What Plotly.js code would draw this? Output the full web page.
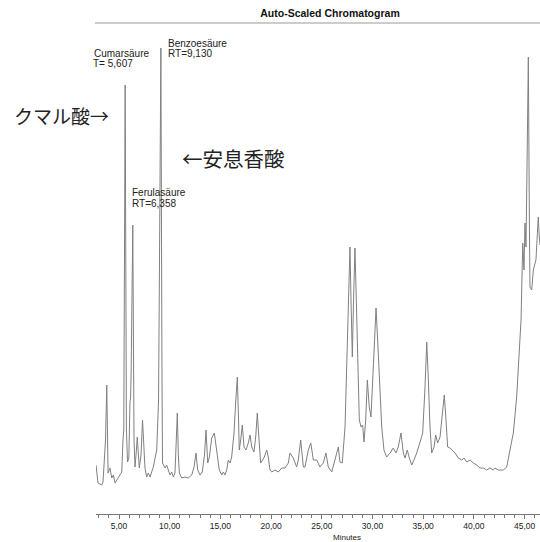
<!DOCTYPE html>
<html>
<head>
<meta charset="utf-8">
<script src="https://cdn.plot.ly/plotly-3.0.1.min.js"></script>
<style>html,body{margin:0;padding:0;background:#fff;}#chart{width:540px;height:542px;}</style>
</head>
<body>
<div id="chart"></div>
<script>
// Retention time (minutes) and detector signal (arbitrary units)
const timeMin = [
  2.73,2.93,3.29,3.42,3.67,3.79,3.92,4.11,4.28,4.44,4.61,4.77,4.93,5.27,5.39,5.47,5.607,5.73,5.84,
  5.97,6.08,6.14,6.20,6.358,6.48,6.58,6.70,6.80,7.00,7.17,7.32,7.56,7.73,7.89,8.06,8.22,8.38,8.72,8.90,9.00,
  9.13,9.24,9.29,9.54,9.70,9.86,10.03,10.20,10.36,10.52,10.67,10.75,10.85,10.95,11.18,11.51,11.83,12.17,12.40,
  12.59,12.76,12.99,13.21,13.43,13.58,13.75,13.91,14.14,14.40,14.64,14.89,15.13,15.29,15.45,15.62,15.78,15.95,
  16.11,16.34,16.52,16.67,16.79,16.86,17.00,17.16,17.33,17.52,17.75,17.92,18.09,18.31,18.48,18.64,18.81,18.97,
  19.17,19.33,19.57,19.72,19.89,20.06,20.38,20.71,21.05,21.37,21.70,21.86,22.19,22.52,22.68,22.92,23.18,23.34,
  23.67,23.91,24.17,24.50,24.82,25.15,25.41,25.64,25.98,26.23,26.63,26.79,27.02,27.29,27.46,27.61,27.78,27.88,
  28.01,28.13,28.27,28.37,28.54,28.70,28.87,29.03,29.16,29.33,29.49,29.68,29.85,30.08,30.35,30.57,30.74,30.91,
  31.13,31.40,31.73,32.05,32.32,32.54,32.81,33.04,33.21,33.43,33.63,33.87,34.09,34.36,34.75,34.95,35.18,35.35,
  35.50,35.67,35.84,36.07,36.23,36.43,36.66,36.85,37.08,37.25,37.41,37.64,37.87,38.14,38.46,38.80,39.02,39.29,
  39.62,39.94,40.28,40.60,40.93,41.26,41.59,41.91,42.08,42.41,42.90,43.24,43.56,43.89,44.22,44.48,44.65,44.82,
  44.94,45.04,45.14,45.26,45.37,45.47,45.53,45.70,45.86,46.12,46.35,46.45,46.52
];
const signal = [
  54,36,34,37,79,134,46,51,41,44,36,39,42,47,79,89,434,89,57,
  61,117,121,149,294,79,52,67,82,51,64,99,51,42,46,42,46,52,69,119,269,
  471,139,56,51,54,49,44,47,42,46,79,106,64,46,41,42,41,44,52,
  66,49,44,47,64,89,56,62,81,86,66,49,44,47,44,49,59,56,
  62,86,119,142,99,69,79,94,72,69,76,84,72,67,82,106,79,56,
  59,62,69,62,49,47,49,47,51,51,56,66,61,52,59,79,52,52,
  69,76,59,59,52,56,66,52,47,56,72,57,56,92,159,216,272,219,
  162,219,271,232,149,99,92,94,77,99,139,112,102,156,211,166,132,92,
  69,62,66,71,66,72,86,66,61,69,61,54,59,66,79,86,132,177,
  142,92,66,72,84,76,82,99,124,99,72,71,69,66,61,59,61,57,
  59,56,54,51,51,49,51,49,51,49,49,52,69,86,122,162,199,276,
  249,296,272,369,462,302,232,229,249,259,302,282,274
];
const tickValues = [5,10,15,20,25,30,35,40,45];
const tickLabels = ['5,00','10,00','15,00','20,00','25,00','30,00','35,00','40,00','45,00'];
const peakNames = ['Cumarsäure','Ferulasäure','Benzoesäure'];
const peakRT = ['T= 5,607','RT=6,358','RT=9,130'];
const jpLabels = ['クマル酸→','←安息香酸'];

// pixel -> paper helpers for text placement
const L = 96, R = 540, T = 24, B = 514;
const px = x => (x - L) / (R - L);
const py = y => (B - y) / (B - T);
const lblFont = {family:'Liberation Sans, Arial, sans-serif', size:10, color:'#222'};
const jpFont = {family:'Noto Sans CJK JP, sans-serif', color:'#222'};

const ann = [
  {text:peakNames[0], x:px(92), y:py(54)},
  {text:peakRT[0], x:px(91), y:py(64)},
  {text:peakNames[1], x:px(130), y:py(192)},
  {text:peakRT[1], x:px(130), y:py(203)},
  {text:peakNames[2], x:px(166), y:py(43)},
  {text:peakRT[2], x:px(166), y:py(54)}
].map(a => Object.assign({xref:'paper', yref:'paper', xanchor:'left', yanchor:'middle',
  showarrow:false, font:lblFont}, a));

ann.push({text:jpLabels[0], xref:'paper', yref:'paper', x:px(12), y:py(115), xanchor:'left', yanchor:'middle',
  showarrow:false, font:Object.assign({size:19}, jpFont)});
ann.push({text:jpLabels[1], xref:'paper', yref:'paper', x:px(180), y:py(158), xanchor:'left', yanchor:'middle',
  showarrow:false, font:Object.assign({size:20.5}, jpFont)});
ann.push({text:'Minutes', xref:'paper', yref:'paper', x:px(347), y:py(537), xanchor:'center', yanchor:'middle',
  showarrow:false, font:{family:'Liberation Sans, Arial, sans-serif', size:8, color:'#222'}});

const trace = {
  x: timeMin, y: signal, type:'scatter', mode:'lines',
  line:{color:'#808080', width:1}, hoverinfo:'skip', cliponaxis:true
};

const layout = {
  width:540, height:542,
  margin:{l:L, r:540-R, t:T, b:542-B, pad:0},
  paper_bgcolor:'#fff', plot_bgcolor:'#fff',
  showlegend:false,
  title:{text:'<b>Auto-Scaled Chromatogram</b>', x:330/540, xanchor:'center', xref:'container',
    y:1-13/542, yanchor:'middle', yref:'container',
    font:{family:'Liberation Sans, Arial, sans-serif', size:10.5, color:'#111'}},
  xaxis:{range:[2.73,46.52], showgrid:false, zeroline:false, showline:true, linecolor:'#777', linewidth:1,
    ticks:'outside', ticklen:4, tickwidth:1, tickcolor:'#777',
    tickmode:'array', tickvals:tickValues, ticktext:tickLabels,
    tickfont:{family:'Liberation Sans, Arial, sans-serif', size:8.5, color:'#222'},
    minor:{tickmode:'linear', tick0:0, dtick:1, ticks:'outside', ticklen:2.5, tickcolor:'#777', showgrid:false}},
  yaxis:{range:[5,495], visible:false, showgrid:false, zeroline:false},
  shapes:[{type:'line', xref:'paper', yref:'paper', x0:px(95), x1:1, y0:py(23), y1:py(23),
    line:{color:'#999', width:1}}],
  annotations:ann
};

Plotly.newPlot('chart', [trace], layout, {staticPlot:true, displayModeBar:false});
</script>
</body>
</html>
